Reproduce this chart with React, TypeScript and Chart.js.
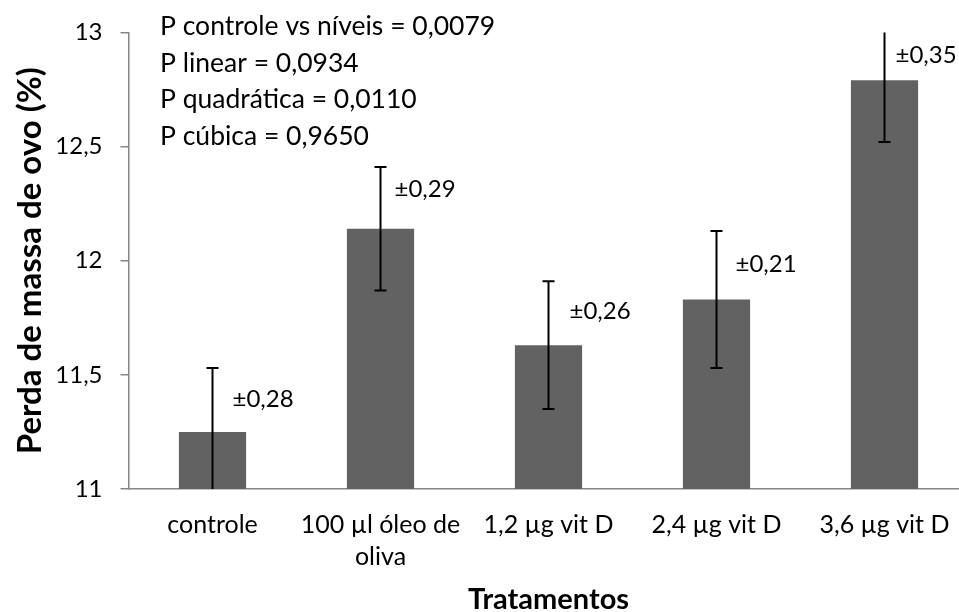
import { useEffect, useRef } from 'react';
import { Chart, registerables } from 'chart.js';

Chart.register(...registerables);

// ---- data ----
const categories: string[][] = [
  ['controle'],
  ['100 µl óleo de', 'oliva'],
  ['1,2 µg vit D'],
  ['2,4 µg vit D'],
  ['3,6 µg vit D'],
];
const means = [11.25, 12.14, 11.63, 11.83, 12.79];
const errorBars = [0.28, 0.27, 0.28, 0.3, 0.27];
const errorLabels = ['±0,28', '±0,29', '±0,26', '±0,21', '±0,35'];
const yTicks = [11, 11.5, 12, 12.5, 13];
const pValues = [
  'P controle vs níveis = 0,0079',
  'P linear = 0,0934',
  'P quadrática = 0,0110',
  'P cúbica = 0,9650',
];

// ---- style ----
const FONT = 'Lato, "Open Sans", sans-serif';
const labelDx = [20, 14, 21, 19, 11];
const labelDy = [-33, -39, -34, -35, -25];

const annotations = {
  id: 'annotations',
  afterDatasetsDraw(chart: any) {
    const ctx = chart.ctx;
    const y = chart.scales.y;
    const meta = chart.getDatasetMeta(0);
    ctx.save();
    ctx.strokeStyle = '#000';
    ctx.lineWidth = 2;
    meta.data.forEach((bar: any, i: number) => {
      const hi = means[i] + errorBars[i];
      const lo = means[i] - errorBars[i];
      const yHi = y.getPixelForValue(Math.min(hi, y.max));
      const yLo = y.getPixelForValue(Math.max(lo, y.min));
      const x = bar.x;
      ctx.beginPath();
      ctx.moveTo(x, yHi);
      ctx.lineTo(x, yLo);
      if (hi <= y.max) {
        ctx.moveTo(x - 6, yHi);
        ctx.lineTo(x + 6, yHi);
      }
      if (lo >= y.min) {
        ctx.moveTo(x - 6, yLo);
        ctx.lineTo(x + 6, yLo);
      }
      ctx.stroke();
      ctx.fillStyle = '#000';
      ctx.font = `24px ${FONT}`;
      ctx.textAlign = 'left';
      ctx.textBaseline = 'middle';
      ctx.fillText(errorLabels[i], x + labelDx[i], bar.y + labelDy[i]);
    });
    ctx.font = `26.5px ${FONT}`;
    ctx.textAlign = 'left';
    ctx.textBaseline = 'alphabetic';
    pValues.forEach((t, i) => {
      ctx.fillText(t, 160, 35 + i * 36.5);
    });
    ctx.restore();
  },
};

export default function App() {
  const ref = useRef<HTMLCanvasElement>(null);
  useEffect(() => {
    if (!ref.current) return;
    const chart = new Chart(ref.current, {
      type: 'bar',
      data: {
        labels: categories as any,
        datasets: [
          {
            data: means,
            backgroundColor: '#626262',
            borderWidth: 0,
            barPercentage: 0.4,
            categoryPercentage: 1,
          },
        ],
      },
      options: {
        responsive: false,
        animation: false,
        layout: { padding: { left: 0, right: 6.5, top: 26, bottom: 0 } },
        plugins: { legend: { display: false }, tooltip: { enabled: false } },
        scales: {
          x: {
            grid: { display: true, drawOnChartArea: false, drawTicks: false },
            border: { display: true, color: '#868686', width: 1.5 },
            ticks: {
              color: '#000',
              font: { family: FONT, size: 25, lineHeight: '32px' },
              padding: 20,
              maxRotation: 0,
              autoSkip: false,
            },
            title: {
              display: true,
              text: 'Tratamentos',
              color: '#000',
              font: { family: FONT, size: 29, weight: 'bold', lineHeight: '24px' },
              padding: { top: 0, bottom: 0 },
            },
            afterFit: (s: any) => {
              s.height = 123;
            },
          },
          y: {
            min: 11,
            max: 13,
            afterBuildTicks: (s: any) => {
              s.ticks = yTicks.map((v) => ({ value: v }));
            },
            grid: {
              display: true,
              drawOnChartArea: false,
              drawTicks: true,
              tickLength: 8,
              color: '#868686',
              lineWidth: 1.5,
            },
            border: { display: true, color: '#868686', width: 1.5 },
            ticks: {
              color: '#000',
              font: { family: FONT, size: 24 },
              padding: 18,
              callback: (v: any) => String(v).replace('.', ','),
            },
            title: {
              display: true,
              text: 'Perda de massa de ovo (%)',
              color: '#000',
              font: { family: FONT, size: 33, weight: 'bold', lineHeight: '36px' },
              padding: { top: 12, bottom: 0 },
            },
            afterFit: (s: any) => {
              s.width = 128.5;
            },
          },
        },
      },
      plugins: [annotations],
    });
    return () => chart.destroy();
  }, []);
  return (
    <div
      style={{
        position: 'absolute',
        left: 0,
        top: 0,
        width: 959,
        height: 612,
        overflow: 'hidden',
        background: '#fff',
      }}
    >
      <canvas ref={ref} width={975} height={612} style={{ display: 'block' }} />
    </div>
  );
}
